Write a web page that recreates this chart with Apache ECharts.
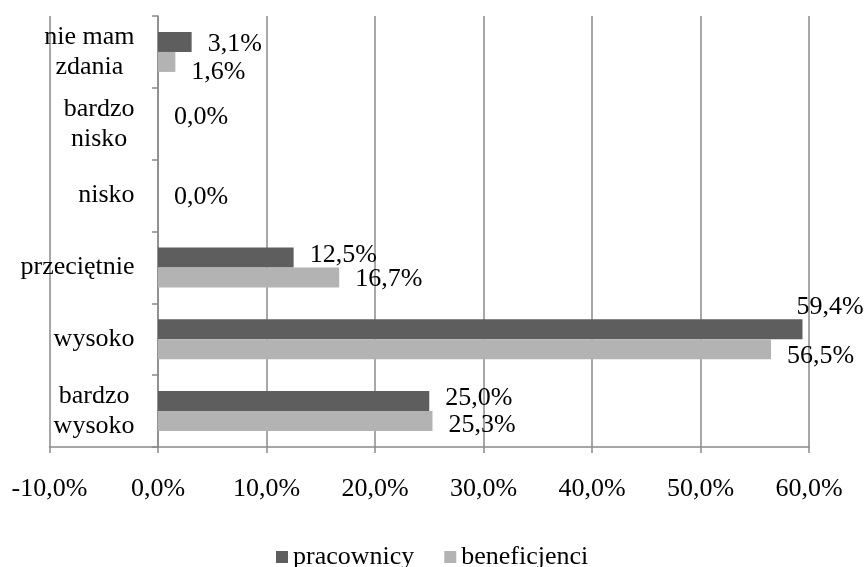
<!DOCTYPE html>
<html>
<head>
<meta charset="utf-8">
<script src="https://cdn.jsdelivr.net/npm/echarts@6/dist/echarts.min.js"></script>
<style>html,body{margin:0;padding:0;background:#fff;}#c{width:866px;height:567px;}</style>
</head>
<body>
<div id="c"></div>
<script>
var categories = ['bardzo wysoko', 'wysoko', 'przeciętnie', 'nisko', 'bardzo nisko', 'nie mam zdania'];
var categoryLines = [['bardzo', 'wysoko'], ['wysoko'], ['przeciętnie'], ['nisko'], ['bardzo', 'nisko'], ['nie mam', 'zdania']];
var pracownicy = [25.0, 59.4, 12.5, 0.0, 0.0, 3.1];
var beneficjenci = [25.3, 56.5, 16.7, 0.0, 0.0, 1.6];
var xTicks = [-10, 0, 10, 20, 30, 40, 50, 60];

// label nudges (styling only)
var pracOffsets = [[0, -3], [-22, -22], [0, -2], [0, 12], [0, 3], [0, 2]];
var benOffsets = [[0, 4], [0, 7], [0, 2], [0, 0], [0, 0], [0, 10]];

var FONT = 'Liberation Serif';
function pct(v) { return v.toFixed(1).replace('.', ',') + '%'; }

function buildData(vals, offs, showZero) {
  return vals.map(function (v, i) {
    return { value: v, label: { show: showZero || v !== 0, offset: offs[i] } };
  });
}

var chart = echarts.init(document.getElementById('c'), null, { renderer: 'canvas' });
chart.setOption({
  animation: false,
  textStyle: { fontFamily: FONT },
  grid: { left: 49.5, right: 57, top: 16, bottom: 120, containLabel: false, outerBoundsMode: 'none' },
  legend: {
    data: ['pracownicy', 'beneficjenci'],
    left: 271, top: 539,
    itemWidth: 12, itemHeight: 12, itemGap: 30,
    icon: 'rect',
    textStyle: { fontFamily: FONT, fontSize: 26, color: '#000' }
  },
  xAxis: {
    type: 'value',
    min: xTicks[0], max: xTicks[xTicks.length - 1], interval: 10,
    axisLine: { show: true, lineStyle: { color: '#8a8a8a', width: 1.5 } },
    axisTick: { show: true, length: 6, lineStyle: { color: '#8a8a8a', width: 1.5 } },
    splitLine: { show: true, lineStyle: { color: '#8a8a8a', width: 1.5 } },
    axisLabel: { margin: 29, fontFamily: FONT, fontSize: 26, color: '#000', formatter: function (v) { return pct(v); } }
  },
  yAxis: {
    type: 'category',
    data: categories,
    axisLine: { show: true, onZero: true, lineStyle: { color: '#8a8a8a', width: 1.5 } },
    axisTick: { show: true, length: 6, lineStyle: { color: '#8a8a8a', width: 1.5 } },
    axisLabel: {
      margin: -85, fontFamily: FONT, fontSize: 26, color: '#000', align: 'right', lineHeight: 30,
      formatter: function (v, i) {
        return categoryLines[i].map(function (s) { return '{c|' + s + '}'; }).join('\n');
      },
      rich: { c: { align: 'center', fontFamily: FONT, fontSize: 26, lineHeight: 30, color: '#000' } }
    },
    splitLine: { show: false }
  },
  series: [
    {
      name: 'pracownicy', type: 'bar', barWidth: 20, barGap: '0%',
      itemStyle: { color: '#5e5e5e' },
      data: buildData(pracownicy, pracOffsets, true),
      label: { show: true, position: 'right', distance: 16, fontFamily: FONT, fontSize: 26, color: '#000',
        formatter: function (p) { return pct(p.value); } }
    },
    {
      name: 'beneficjenci', type: 'bar', barWidth: 20, barGap: '0%',
      itemStyle: { color: '#b3b3b3' },
      data: buildData(beneficjenci, benOffsets, false),
      label: { show: true, position: 'right', distance: 16, fontFamily: FONT, fontSize: 26, color: '#000',
        formatter: function (p) { return pct(p.value); } }
    }
  ]
});
</script>
</body>
</html>
